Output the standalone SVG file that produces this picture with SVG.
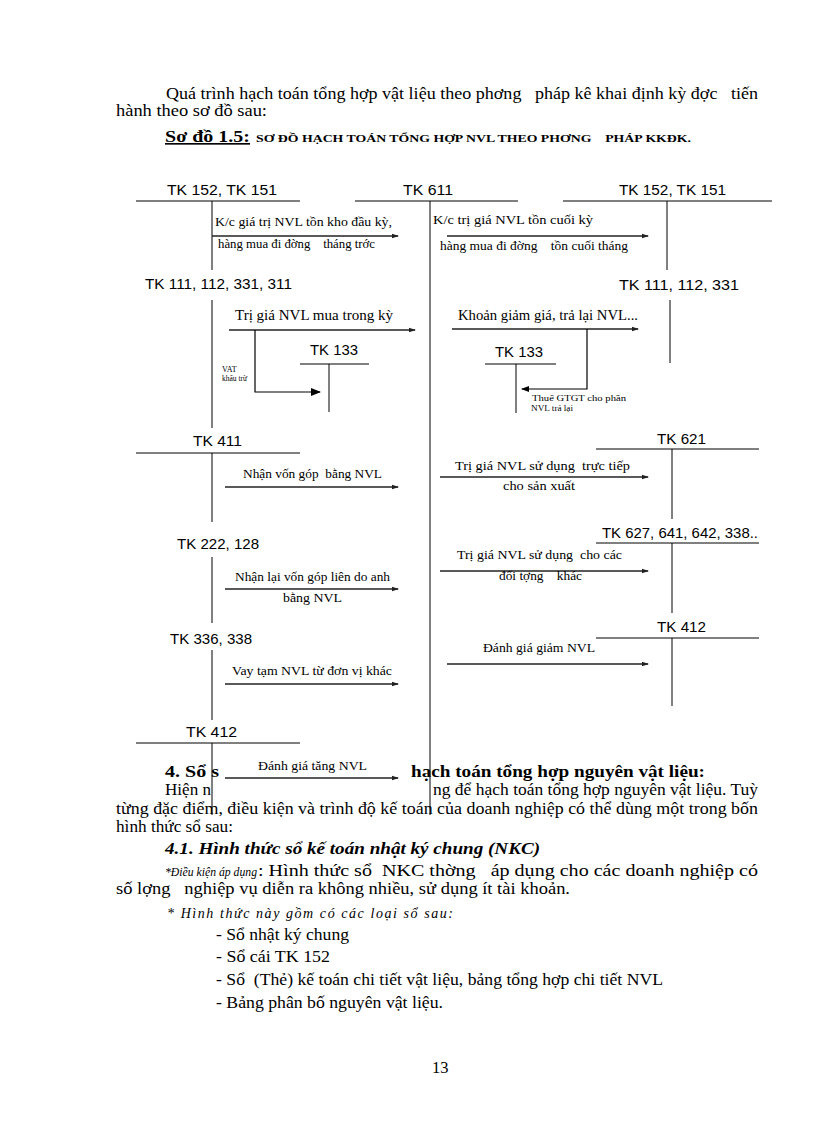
<svg xmlns="http://www.w3.org/2000/svg" width="816" height="1123" viewBox="0 0 816 1123">
<style>
.b{font-family:"Liberation Serif","Times New Roman",serif;font-size:16.5px;fill:#000}
.it{font-family:"Liberation Serif","Times New Roman",serif;font-style:italic;fill:#000}
.tk{font-family:"Liberation Sans",Arial,sans-serif;font-size:14.5px;fill:#000}
.lb{font-family:"Liberation Serif","Times New Roman",serif;font-size:12px;fill:#000}
.lm{font-family:"Liberation Serif","Times New Roman",serif;font-size:14px;fill:#000}
.tiny{font-family:"Liberation Serif","Times New Roman",serif;font-size:8px;fill:#000}
.h{font-family:"Liberation Serif","Times New Roman",serif;font-size:16.5px;font-weight:bold;fill:#000}
.ln{stroke:#000;stroke-width:1;fill:none}
.ar{stroke:#222;stroke-width:1.3;fill:none;marker-end:url(#a)}
</style>
<defs>
<marker id="a" markerUnits="userSpaceOnUse" markerWidth="7" markerHeight="6" refX="6" refY="3" orient="auto"><path d="M0,0.8 L7,3 L0,5.2 z" fill="#222"/></marker>
<marker id="big" markerUnits="userSpaceOnUse" markerWidth="10" markerHeight="8" refX="9" refY="4" orient="auto"><path d="M0,0 L10,4 L0,8 z" fill="#000"/></marker>
<marker id="med" markerUnits="userSpaceOnUse" markerWidth="8" markerHeight="6" refX="7" refY="3" orient="auto"><path d="M0,0 L8,3 L0,6 z" fill="#000"/></marker>
</defs>
<rect width="816" height="1123" fill="#fff"/>

<g id="intro">
<text class="b" x="166" y="99" textLength="592" lengthAdjust="spacingAndGlyphs" xml:space="preserve">Quá trình hạch toán tổng hợp vật liệu theo phơng   pháp kê khai định kỳ đợc   tiến</text>
<text class="b" x="116" y="116" textLength="151" lengthAdjust="spacingAndGlyphs">hành theo sơ đồ sau:</text>
<text class="h" x="165" y="142" text-decoration="underline" textLength="85" lengthAdjust="spacingAndGlyphs">Sơ đồ 1.5:</text>
<text x="256" y="142" font-family="Liberation Serif,serif" font-size="11" font-weight="bold" textLength="435" lengthAdjust="spacingAndGlyphs" xml:space="preserve">SƠ ĐỒ HẠCH TOÁN TỔNG HỢP NVL THEO PHƠNG    PHÁP KKĐK.</text>
</g>

<g id="tk152-151-left">
<text class="tk" x="167" y="195" textLength="110" lengthAdjust="spacingAndGlyphs">TK 152, TK 151</text>
<line class="ln" x1="136" y1="201" x2="300" y2="201"/>
<line class="ln" x1="212" y1="201" x2="212" y2="270"/>
</g>
<g id="tk611">
<text class="tk" x="403" y="195" textLength="50" lengthAdjust="spacingAndGlyphs">TK 611</text>
<line class="ln" x1="355" y1="201" x2="518" y2="201"/>
<line class="ln" x1="430" y1="201" x2="430" y2="815"/>
</g>
<g id="tk152-151-right">
<text class="tk" x="619" y="195" textLength="107" lengthAdjust="spacingAndGlyphs">TK 152, TK 151</text>
<line class="ln" x1="563" y1="201" x2="772" y2="201"/>
<line class="ln" x1="667" y1="201" x2="667" y2="270"/>
</g>
<g id="tk111-left">
<text class="tk" x="145" y="289" textLength="147" lengthAdjust="spacingAndGlyphs">TK 111, 112, 331, 311</text>
<line class="ln" x1="212" y1="300" x2="212" y2="428"/>
</g>
<g id="tk111-right">
<text class="tk" x="619" y="290" textLength="120" lengthAdjust="spacingAndGlyphs">TK 111, 112, 331</text>
<line class="ln" x1="670" y1="300" x2="670" y2="363"/>
</g>
<g id="tk133-left">
<text class="tk" x="310" y="355" textLength="48" lengthAdjust="spacingAndGlyphs">TK 133</text>
<line class="ln" x1="300" y1="364" x2="369" y2="364"/>
<line class="ln" x1="329" y1="364" x2="329" y2="412"/>
</g>
<g id="tk133-right">
<text class="tk" x="495" y="357" textLength="48" lengthAdjust="spacingAndGlyphs">TK 133</text>
<line class="ln" x1="485" y1="364" x2="556" y2="364"/>
<line class="ln" x1="516" y1="364" x2="516" y2="413"/>
</g>
<g id="tk411">
<text class="tk" x="193" y="446" textLength="49" lengthAdjust="spacingAndGlyphs">TK 411</text>
<line class="ln" x1="136" y1="453" x2="300" y2="453"/>
<line class="ln" x1="212" y1="453" x2="212" y2="522"/>
</g>
<g id="tk621">
<text class="tk" x="657" y="444" textLength="49" lengthAdjust="spacingAndGlyphs">TK 621</text>
<line class="ln" x1="596" y1="449" x2="759" y2="449"/>
<line class="ln" x1="672" y1="449" x2="672" y2="519"/>
</g>
<g id="tk222-128">
<text class="tk" x="177" y="549" textLength="82" lengthAdjust="spacingAndGlyphs">TK 222, 128</text>
<line class="ln" x1="212" y1="557" x2="212" y2="623"/>
</g>
<g id="tk627">
<text class="tk" x="602" y="538" textLength="156" lengthAdjust="spacingAndGlyphs">TK 627, 641, 642, 338..</text>
<line class="ln" x1="596" y1="543" x2="759" y2="543"/>
<line class="ln" x1="672" y1="543" x2="672" y2="613"/>
</g>
<g id="tk336-338">
<text class="tk" x="170" y="644" textLength="82" lengthAdjust="spacingAndGlyphs">TK 336, 338</text>
<line class="ln" x1="212" y1="650" x2="212" y2="720"/>
</g>
<g id="tk412-right">
<text class="tk" x="657" y="632" textLength="49" lengthAdjust="spacingAndGlyphs">TK 412</text>
<line class="ln" x1="596" y1="638" x2="759" y2="638"/>
<line class="ln" x1="672" y1="638" x2="672" y2="706"/>
</g>
<g id="tk412-left">
<text class="tk" x="186" y="737" textLength="51" lengthAdjust="spacingAndGlyphs">TK 412</text>
<line class="ln" x1="136" y1="743" x2="300" y2="743"/>
<line class="ln" x1="212" y1="743" x2="212" y2="815"/>
</g>

<g id="connectors">
<line class="ar" x1="212" y1="236" x2="398" y2="236"/>
<text class="lb" x="215" y="226" textLength="177" lengthAdjust="spacingAndGlyphs">K/c giá trị NVL tồn kho đầu kỳ,</text>
<text class="lb" x="218" y="248" textLength="157" lengthAdjust="spacingAndGlyphs" xml:space="preserve">hàng mua đi đờng    tháng trớc</text>

<line class="ar" x1="447" y1="236" x2="648" y2="236"/>
<text class="lb" x="433" y="224" textLength="160" lengthAdjust="spacingAndGlyphs">K/c trị giá NVL tồn cuối kỳ</text>
<text class="lb" x="440" y="250" textLength="188" lengthAdjust="spacingAndGlyphs" xml:space="preserve">hàng mua đi đờng    tồn cuối tháng</text>

<line class="ar" x1="229" y1="330" x2="415" y2="330"/>
<text class="lm" x="235" y="320" textLength="158" lengthAdjust="spacingAndGlyphs">Trị giá NVL mua trong kỳ</text>
<polyline points="255,330 255,392 320,392" fill="none" stroke="#000" stroke-width="1.2" marker-end="url(#big)"/>
<text class="tiny" x="222" y="372">VAT</text>
<text class="tiny" x="222" y="381" style="font-size:7.5px">khấu trừ</text>

<line class="ar" x1="452" y1="329" x2="638" y2="329"/>
<text class="lm" x="458" y="320" textLength="180" lengthAdjust="spacingAndGlyphs">Khoản giảm giá, trả lại NVL...</text>
<polyline points="587,329 587,389 522,389" fill="none" stroke="#000" stroke-width="1.2" marker-end="url(#med)"/>
<text class="tiny" x="532" y="401" textLength="94" lengthAdjust="spacingAndGlyphs">Thuế GTGT cho phần</text>
<text class="tiny" x="531" y="411" textLength="42" lengthAdjust="spacingAndGlyphs">NVL trả lại</text>

<line class="ar" x1="225" y1="487" x2="398" y2="487"/>
<text class="lb" x="243" y="478" textLength="139" lengthAdjust="spacingAndGlyphs" xml:space="preserve">Nhận vốn góp  bằng NVL</text>

<line class="ar" x1="440" y1="477" x2="648" y2="477"/>
<text class="lb" x="455" y="470" textLength="175" lengthAdjust="spacingAndGlyphs" xml:space="preserve">Trị giá NVL sử dụng  trực tiếp</text>
<text class="lb" x="503" y="490" textLength="72" lengthAdjust="spacingAndGlyphs">cho sản xuất</text>

<line class="ar" x1="225" y1="589" x2="398" y2="589"/>
<text class="lb" x="235" y="581" textLength="155" lengthAdjust="spacingAndGlyphs">Nhận lại vốn góp liên do anh</text>
<text class="lb" x="283" y="602" textLength="59" lengthAdjust="spacingAndGlyphs">bằng NVL</text>

<line class="ar" x1="440" y1="571" x2="648" y2="571"/>
<text class="lb" x="457" y="559" textLength="165" lengthAdjust="spacingAndGlyphs" xml:space="preserve">Trị giá NVL sử dụng  cho các</text>
<text class="lb" x="499" y="580" textLength="83" lengthAdjust="spacingAndGlyphs" xml:space="preserve">đối tợng    khác</text>

<line class="ar" x1="225" y1="684" x2="398" y2="684"/>
<text class="lb" x="232" y="675" textLength="160" lengthAdjust="spacingAndGlyphs">Vay tạm NVL từ đơn vị khác</text>

<line class="ar" x1="447" y1="664" x2="648" y2="664"/>
<text class="lb" x="483" y="652" textLength="112" lengthAdjust="spacingAndGlyphs">Đánh giá giảm NVL</text>

<line class="ar" x1="225" y1="778" x2="398" y2="778"/>
<text class="lb" x="258" y="770" textLength="109" lengthAdjust="spacingAndGlyphs">Đánh giá tăng NVL</text>
</g>

<g id="body">
<text class="h" x="165" y="777" textLength="54" lengthAdjust="spacingAndGlyphs">4. Sổ s</text>
<text class="h" x="411" y="777" textLength="294" lengthAdjust="spacingAndGlyphs">hạch toán tổng hợp nguyên vật liệu:</text>
<text class="b" x="165" y="795" textLength="46" lengthAdjust="spacingAndGlyphs">Hiện n</text>
<text class="b" x="433" y="795" textLength="325" lengthAdjust="spacingAndGlyphs">ng để hạch toán tổng hợp nguyên vật liệu. Tuỳ</text>
<text class="b" x="116" y="814" textLength="642" lengthAdjust="spacingAndGlyphs">từng đặc điểm, điều kiện và trình độ kế toán của doanh nghiệp có thể dùng một trong bốn</text>
<text class="b" x="116" y="832" textLength="117" lengthAdjust="spacingAndGlyphs">hình thức sổ sau:</text>
<text class="h" x="165" y="854" font-style="italic" textLength="375" lengthAdjust="spacingAndGlyphs">4.1. Hình thức sổ kế toán nhật ký chung (NKC)</text>
<text class="it" x="165" y="876" style="font-size:12px" textLength="92" lengthAdjust="spacingAndGlyphs">*Điều kiện áp dụng</text>
<text class="b" x="258" y="876" textLength="500" lengthAdjust="spacingAndGlyphs" xml:space="preserve">: Hình thức sổ  NKC thờng   áp dụng cho các doanh nghiệp có</text>
<text class="b" x="116" y="894" textLength="454" lengthAdjust="spacingAndGlyphs" xml:space="preserve">số lợng   nghiệp vụ diễn ra không nhiều, sử dụng ít tài khoản.</text>
<text class="it" x="167" y="918" style="font-size:14px" textLength="286" lengthAdjust="spacing">* Hình thức này gồm có các loại sổ sau:</text>
<text class="b" x="216" y="940" textLength="133" lengthAdjust="spacingAndGlyphs">- Sổ nhật ký chung</text>
<text class="b" x="216" y="962" textLength="114" lengthAdjust="spacingAndGlyphs">- Sổ cái TK 152</text>
<text class="b" x="216" y="985" textLength="447" lengthAdjust="spacingAndGlyphs" xml:space="preserve">- Sổ  (Thẻ) kế toán chi tiết vật liệu, bảng tổng hợp chi tiết NVL</text>
<text class="b" x="216" y="1008" textLength="227" lengthAdjust="spacingAndGlyphs">- Bảng phân bố nguyên vật liệu.</text>
<text class="b" x="432" y="1073">13</text>
</g>
</svg>
